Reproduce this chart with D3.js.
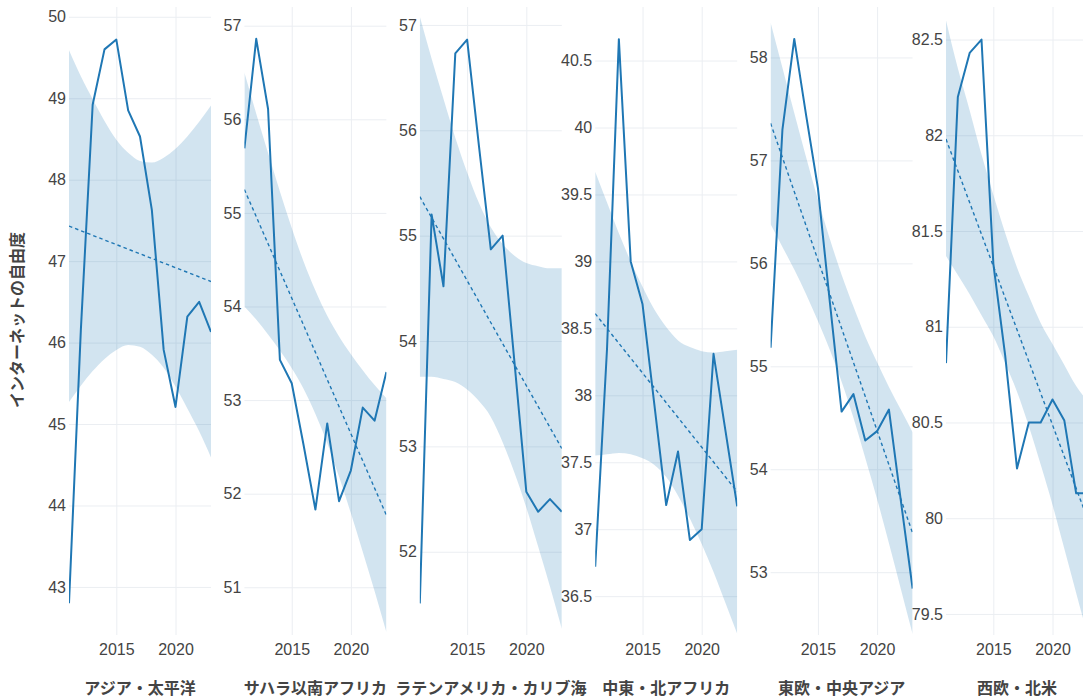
<!DOCTYPE html>
<html>

<head>
  <meta charset='utf-8'>
  <script src="https://d3js.org/d3.v7.min.js"></script>
  <style>
    body {
      margin: 0;
      background-color: #fff;
    }

    text {
      font-family: "Liberation Sans", Arial, "Noto Sans CJK JP", sans-serif;
      fill: #444;
    }

    .tick line {
      stroke: #ebeef2;
      stroke-width: 1;
    }

    .tick text {
      font-size: 16px;
    }

    .panel-title,
    .y-title {
      font-size: 16px;
      font-weight: bold;
    }
  </style>
</head>

<body>
  <div id='chart'></div>
  <script>
    var years = [2011, 2012, 2013, 2014, 2015, 2016, 2017, 2018, 2019, 2020, 2021, 2022, 2023];
    var xTickValues = [2015, 2020];

    var regions = ['アジア・太平洋', 'サハラ以南アフリカ', 'ラテンアメリカ・カリブ海',
      '中東・北アフリカ', '東欧・中央アジア', '西欧・北米'];

    // internet freedom score per region, one value per year
    var freedom = [
      [42.80, 46.15, 48.92, 49.60, 49.72, 48.85, 48.53, 47.63, 45.91, 45.21, 46.32, 46.50, 46.13],
      [55.69, 56.86, 56.11, 53.43, 53.18, 52.52, 51.83, 52.75, 51.92, 52.25, 52.92, 52.78, 53.30],
      [51.51, 55.20, 54.52, 56.73, 56.86, 55.85, 54.87, 55.00, 53.80, 52.57, 52.38, 52.50, 52.38],
      [36.72, 38.35, 40.66, 39.00, 38.68, 37.93, 37.18, 37.58, 36.92, 37.00, 38.31, 37.74, 37.17],
      [55.18, 57.30, 58.18, 57.44, 56.73, 55.63, 54.56, 54.73, 54.28, 54.37, 54.58, 53.70, 52.84],
      [80.81, 82.20, 82.43, 82.50, 81.33, 80.85, 80.26, 80.50, 80.50, 80.62, 80.51, 80.13, 80.13]
    ];

    // confidence band of the trend, upper and lower edge
    var bandUpper = [
      [49.59, 49.27, 48.99, 48.72, 48.49, 48.33, 48.23, 48.21, 48.27, 48.38, 48.53, 48.71, 48.91],
      [56.50, 56.06, 55.64, 55.23, 54.84, 54.48, 54.17, 53.90, 53.68, 53.49, 53.32, 53.16, 53.02],
      [57.08, 56.68, 56.30, 55.93, 55.60, 55.31, 55.08, 54.92, 54.81, 54.74, 54.71, 54.69, 54.69],
      [39.67, 39.44, 39.21, 39.00, 38.81, 38.64, 38.51, 38.41, 38.36, 38.33, 38.32, 38.33, 38.34],
      [58.34, 57.90, 57.46, 57.03, 56.62, 56.24, 55.89, 55.58, 55.29, 55.04, 54.80, 54.58, 54.36],
      [82.60, 82.35, 82.13, 81.90, 81.69, 81.49, 81.31, 81.16, 81.02, 80.91, 80.80, 80.69, 80.61]
    ];
    var bandLower = [
      [45.27, 45.47, 45.65, 45.80, 45.91, 45.97, 45.95, 45.85, 45.69, 45.46, 45.19, 44.91, 44.59],
      [54.00, 53.86, 53.70, 53.53, 53.34, 53.12, 52.85, 52.54, 52.18, 51.79, 51.38, 50.96, 50.52],
      [53.66, 53.66, 53.64, 53.61, 53.54, 53.43, 53.28, 53.04, 52.75, 52.42, 52.05, 51.67, 51.27],
      [37.55, 37.56, 37.57, 37.56, 37.53, 37.48, 37.39, 37.25, 37.08, 36.89, 36.68, 36.45, 36.22],
      [56.38, 56.16, 55.94, 55.70, 55.44, 55.16, 54.85, 54.50, 54.11, 53.71, 53.28, 52.84, 52.40],
      [81.37, 81.27, 81.17, 81.06, 80.95, 80.81, 80.66, 80.48, 80.28, 80.07, 79.84, 79.61, 79.38]
    ];

    // dotted linear trend, value in 2011 and in 2023
    var trendStart = [47.43, 55.25, 55.37, 38.61, 57.36, 81.98];
    var trendEnd = [46.75, 51.77, 52.98, 37.28, 53.38, 79.99];

    // free y axis range of each panel
    var yExtents = [[42.41, 50.12], [50.49, 57.20], [51.21, 57.17], [36.21, 40.90], [52.39, 58.49], [79.39, 82.67]];

    var width = 1083,
      height = 700;
    var plotTop = 7,
      plotBottom = 635;
    var panelLeft = 69,
      panelStep = 175.4,
      panelWidth = 142;
    var blue = '#1f77b4';

    var svg = d3.select('#chart')
      .append('svg')
      .attr('width', width)
      .attr('height', height)
      .style('display', 'block');

    var fmt = function(d) {
      return String(+d.toFixed(1));
    };

    regions.forEach(function(name, i) {
      var x0 = panelLeft + i * panelStep;

      var x = d3.scaleLinear()
        .domain([years[0], years[years.length - 1]])
        .range([x0, x0 + panelWidth]);

      var y = d3.scaleLinear()
        .domain(yExtents[i])
        .range([plotBottom, plotTop]);

      svg.append('clipPath')
        .attr('id', 'clip' + i)
        .append('rect')
        .attr('x', x0)
        .attr('y', plotTop)
        .attr('width', panelWidth)
        .attr('height', plotBottom - plotTop);

      // axes double as grid lines
      var yAxis = svg.append('g')
        .attr('transform', 'translate(' + x0 + ',0)')
        .call(d3.axisLeft(y).ticks(8).tickSize(-panelWidth).tickPadding(3).tickFormat(fmt));
      yAxis.select('.domain').remove();

      var xAxis = svg.append('g')
        .attr('transform', 'translate(0,' + plotBottom + ')')
        .call(d3.axisBottom(x).tickValues(xTickValues).tickSize(-(plotBottom - plotTop)).tickPadding(9).tickFormat(d3.format('d')));
      xAxis.select('.domain').remove();

      var plot = svg.append('g')
        .attr('clip-path', 'url(#clip' + i + ')');

      var area = d3.area()
        .x(function(d, j) { return x(years[j]); })
        .y0(function(d, j) { return y(bandLower[i][j]); })
        .y1(function(d) { return y(d); })
        .curve(d3.curveMonotoneX);

      plot.append('path')
        .attr('d', area(bandUpper[i]))
        .attr('fill', 'rgba(31, 119, 180, 0.2)')
        .attr('stroke', 'none');

      var trend = d3.line()
        .x(function(d) { return x(d[0]); })
        .y(function(d) { return y(d[1]); });

      plot.append('path')
        .attr('d', trend([[years[0], trendStart[i]], [years[years.length - 1], trendEnd[i]]]))
        .attr('fill', 'none')
        .attr('stroke', blue)
        .attr('stroke-width', 1.4)
        .attr('stroke-dasharray', '3.5,3');

      var line = d3.line()
        .x(function(d, j) { return x(years[j]); })
        .y(function(d) { return y(d); });

      plot.append('path')
        .attr('d', line(freedom[i]))
        .attr('fill', 'none')
        .attr('stroke', blue)
        .attr('stroke-width', 2)
        .attr('stroke-linejoin', 'round');

      svg.append('text')
        .attr('class', 'panel-title')
        .attr('x', x0 + panelWidth / 2)
        .attr('y', 694)
        .attr('text-anchor', 'middle')
        .text(name);
    });

    svg.append('text')
      .attr('class', 'y-title')
      .attr('transform', 'translate(17,320) rotate(-90)')
      .attr('text-anchor', 'middle')
      .attr('dominant-baseline', 'central')
      .text('インターネットの自由度');
  </script>
</body>

</html>
